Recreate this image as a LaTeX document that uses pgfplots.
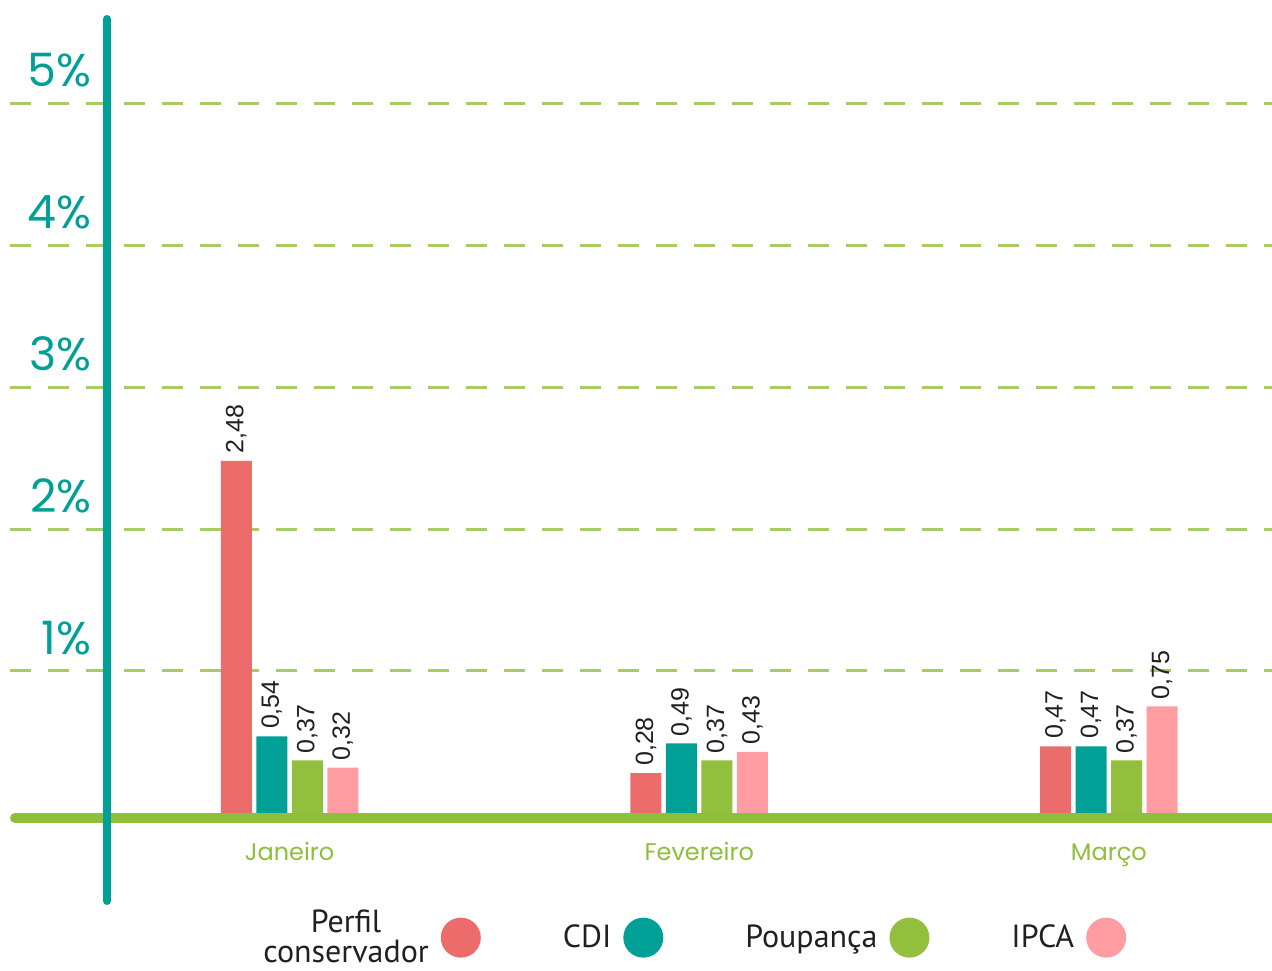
\documentclass[border=0pt]{standalone}
\usepackage{pgfplots}
\pgfplotsset{compat=1.18}
\usepackage{fontspec}
\setmainfont{PT Sans}
\newfontfamily\poppins{Poppins}
\newfontfamily\libsans{Liberation Sans}
\definecolor{cPerfil}{RGB}{236,108,108}
\definecolor{cCDI}{RGB}{0,160,150}
\definecolor{cPoup}{RGB}{146,191,62}
\definecolor{cIPCA}{RGB}{255,157,163}
\definecolor{gridgreen}{RGB}{165,205,100}
\definecolor{basegreen}{RGB}{141,191,60}
\definecolor{txtdark}{RGB}{35,31,32}
\pgfplotsset{circlelegend/.style={legend image code/.code={\fill[##1,draw=none] (10pt,0pt) circle (10pt);}}}
\begin{document}
\begin{tikzpicture}
\begin{axis}[
  at={(5pt,33.5pt)}, anchor=south west,
  scale only axis, width=631pt, height=444pt,
  xmin=-0.6826, xmax=2.3984, ymin=-0.634, ymax=5.62,
  clip=false,
  axis line style={draw=none},
  tick style={draw=none},
  ybar=2.25pt, bar width=15.5pt,
  xtick={0,1,2}, xticklabels={Janeiro,Fevereiro,Março},
  xticklabel style={font=\poppins\fontsize{12}{14}\selectfont, text=basegreen, anchor=base, yshift=25.5pt},
  ytick={1,2,3,4,5}, yticklabels={1\%,2\%,3\%,4\%,5\%},
  yticklabel style={font=\poppins\fontsize{23}{26}\selectfont, text=cCDI, anchor=south east, inner sep=0pt, xshift=41pt, yshift=8pt},
  ymajorgrids, grid style={gridgreen, line width=1.5pt, dash pattern=on 10.5pt off 8.5pt},
  /pgf/number format/assume math mode=true,
  nodes near coords={\pgfmathprintnumber[fixed,fixed zerofill,precision=2,use comma]{\pgfplotspointmeta}},
  every node near coord/.append style={font=\libsans\fontsize{12.5}{14}\selectfont, text=txtdark, rotate=90, anchor=west, inner sep=0pt, inner xsep=3.5pt},
  legend plot pos=right,
  legend columns=4,
  legend style={draw=none, fill=none, at={(axis description cs:0.541,-0.039)}, anchor=center,
    font=\fontsize{16}{15}\selectfont, text=txtdark, cells={anchor=center, align=center}, inner sep=0pt,
    /tikz/every odd column/.append style={column sep=4pt},
    /tikz/every even column/.append style={column sep=39pt}},
]
\addplot[fill=cPerfil, draw=none, circlelegend] coordinates {(0,2.48) (1,0.28) (2,0.47)};
\addlegendentry{Perfil\\conservador}
\addplot[fill=cCDI, draw=none, circlelegend] coordinates {(0,0.54) (1,0.49) (2,0.47)};
\addlegendentry{CDI}
\addplot[fill=cPoup, draw=none, circlelegend] coordinates {(0,0.37) (1,0.37) (2,0.37)};
\addlegendentry{Poupança}
\addplot[fill=cIPCA, draw=none, circlelegend] coordinates {(0,0.32) (1,0.43) (2,0.75)};
\addlegendentry{IPCA}
\draw[basegreen, line width=5pt, line cap=round, yshift=-2.5pt] (axis cs:-0.6704,0) -- (axis cs:2.45,0);
\draw[cCDI, line width=4pt, line cap=round] (axis cs:-0.4458,-0.620) -- (axis cs:-0.4458,5.592);
\end{axis}
\pgfresetboundingbox
\useasboundingbox (0,0) rectangle (636pt,485pt);
\end{tikzpicture}
\end{document}
